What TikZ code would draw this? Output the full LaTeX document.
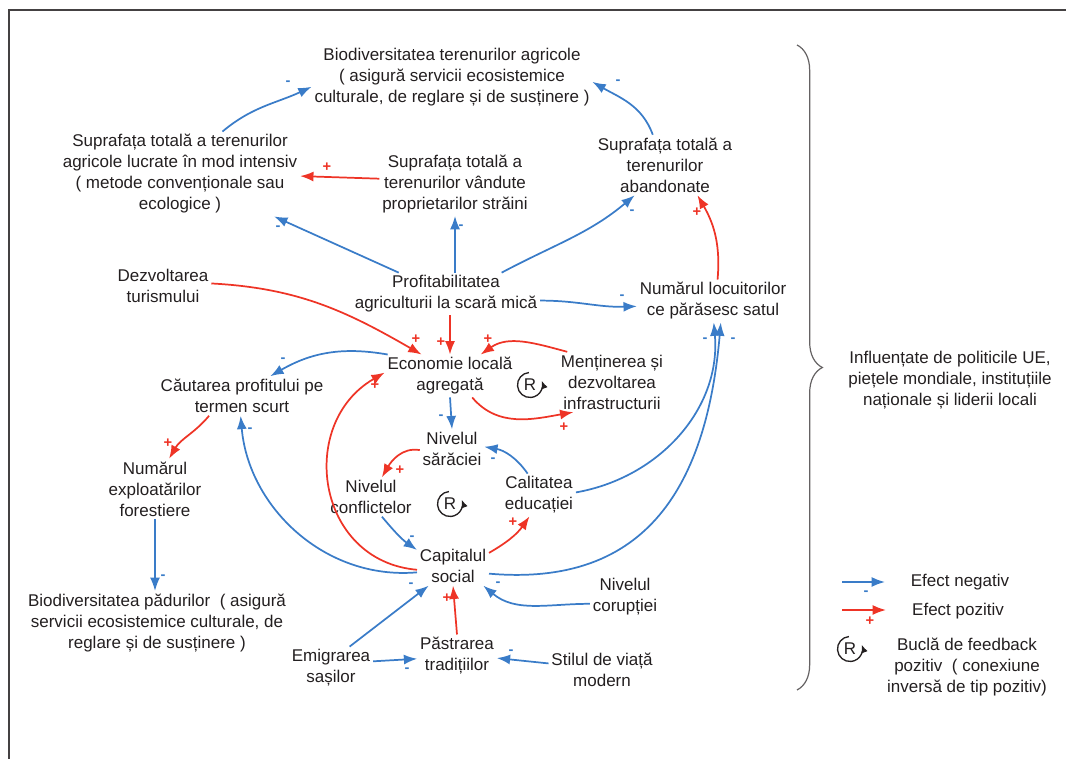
\documentclass[tikz,border=0pt]{standalone}
\usepackage{fontspec}
\setmainfont{Liberation Sans}
\usetikzlibrary{arrows.meta, decorations.pathreplacing}
\definecolor{negcol}{RGB}{58,124,200}
\definecolor{pozcol}{RGB}{238,52,38}
\definecolor{ink}{RGB}{35,31,32}
\tikzstyle{var}=[align=center, inner sep=2pt, text=ink, font=\fontsize{12.75}{15.75}\selectfont]
\tikzstyle{negarr}=[draw=negcol, line width=1.3pt, -{Latex[length=10pt,width=7.5pt]}]
\tikzstyle{pozarr}=[draw=pozcol, line width=1.3pt, -{Latex[length=10pt,width=7.5pt]}]
\tikzstyle{sgnneg}=[text=negcol, inner sep=0pt, font=\fontsize{11}{11}\selectfont\bfseries]
\tikzstyle{sgnpoz}=[text=pozcol, inner sep=0pt, font=\fontsize{11}{11}\selectfont\bfseries]
\newcommand{\buclaR}[2]{%
  \node[var, inner sep=0pt] (#1) at (#2) {R};
  \draw[ink, line width=1pt, -{Latex[length=6pt,width=5pt]}] (#1) ++(95:12.5) arc[start angle=95, end angle=380, radius=12.5];
}

\begin{document}
\begin{tikzpicture}[x=0.75pt, y=0.75pt]
  \useasboundingbox (0,0) rectangle (1066,759);
  \draw[ink!85, line width=2.2pt] (9,-5) -- (9,749) -- (1075,749);

  % variables
  \node[var] (bioA) at (452,682) {Biodiversitatea terenurilor agricole\\( asigură servicii ecosistemice\\culturale, de reglare și de susținere )};
  \node[var] (intens) at (180,585) {Suprafața totală a terenurilor\\agricole lucrate în mod intensiv\\( metode convenționale sau\\ecologice )};
  \node[var] (vand) at (455,575) {Suprafața totală a\\terenurilor vândute\\proprietarilor străini};
  \node[var] (aband) at (665,594) {Suprafața totală a\\terenurilor\\abandonate};
  \node[var] (turism) at (163,473) {Dezvoltarea\\turismului};
  \node[var] (profit) at (446,465) {Profitabilitatea\\agriculturii la scară mică};
  \node[var] (plec) at (713,458) {Numărul locuitorilor\\ce părăsesc satul};
  \node[var] (econ) at (450,383) {Economie locală\\agregată};
  \node[var] (infra) at (612,377) {Menținerea și\\dezvoltarea\\infrastructurii};
  \node[var] (cautare) at (242,363) {Căutarea profitului pe\\termen scurt};
  \node[var] (forest) at (155,270) {Numărul\\exploatărilor\\forestiere};
  \node[var] (bioP) at (157,136) {Biodiversitatea pădurilor \ ( asigură\\servicii ecosistemice culturale, de\\reglare și de susținere )};
  \node[var] (sarac) at (452,310) {Nivelul\\sărăciei};
  \node[var] (confl) at (371,262) {Nivelul\\conflictelor};
  \node[var] (educ) at (539,264) {Calitatea\\educației};
  \node[var] (capital) at (453,193) {Capitalul\\social};
  \node[var] (corup) at (625,162) {Nivelul\\corupției};
  \node[var] (traditii) at (457,103) {Păstrarea\\tradițiilor};
  \node[var] (stil) at (602,89) {Stilul de viață\\modern};
  \node[var] (emigr) at (331,91) {Emigrarea\\sașilor};
  \buclaR{R1}{530,374}
  \buclaR{R2}{450,255}

  % negative links
  \draw[negarr] (intens.45) to[out=40,in=205] (bioA.184);
  \draw[negarr] (aband.112) to[out=110,in=-30] (bioA.-2);
  \draw[negarr] (profit) -- (intens);
  \draw[negarr] (profit.north -| vand.south) -- (vand.south);
  \draw[negarr] (profit.21) to[out=28,in=220] (aband.225);
  \draw[negarr] (profit.-4) to[out=0,in=182] (plec.184);
  \draw[negarr] (econ.161) to[out=170,in=30] (cautare.35);
  \draw[negarr] (econ.south) -- (sarac.north);
  \draw[negarr] (educ.118) to[out=125,in=-10] (sarac.4);
  \draw[negarr] (educ.4) to[out=10,in=-85] (plec.-88);
  \draw[negarr] (capital.-12) to[out=-5,in=-95,looseness=1.2] (plec.-70);
  \draw[negarr] (capital.190) to[out=185,in=-85] (cautare.266);
  \draw[negarr] (confl.-61) to[out=-50,in=145] (capital.156);
  \draw[negarr] (emigr.49) -- (capital.219);
  \draw[negarr] (emigr.9) -- (traditii.184);
  \draw[negarr] (stil.173) -- (traditii.-3);
  \draw[negarr] (corup.191) to[out=180,in=-40] (capital.-33);
  \draw[negarr] (forest.south) -- (forest.south |- bioP.north);

  % positive links
  \draw[pozarr] (vand.176) -- (intens.-1);
  \draw[pozarr] (plec.78) to[out=85,in=-60] (aband.-43);
  \draw[pozarr] (turism.3) to[out=-3,in=150] (econ.143);
  \draw[pozarr] (profit.south -| econ.north) -- (econ.north);
  \draw[pozarr] (infra.146) to[out=165,in=35] (econ.35);
  \draw[pozarr] (econ.-44) to[out=-50,in=190] (infra.218);
  \draw[pozarr] (cautare.211) to[out=-130,in=60] (forest.65);
  \draw[pozarr] (capital.186) to[out=175,in=210,looseness=1.3] (econ.177);
  \draw[pozarr] (sarac.182) to[out=170,in=60] (confl.61);
  \draw[pozarr] (capital.20) to[out=30,in=235] (educ.246);
  \draw[pozarr] (traditii.north) -- (capital.south);

  % signs
  \foreach \p [count=\i] in {(288,676),(618,677),(278,531),(461,532),(632,547),(622,462),(283,399),(441,342),(493,299),(705,419),(733,419),(250,329),(412,221),(411,174),(407,89),(511,107),(498,175),(163,182),(866,166)}
    \node[sgnneg] (m\i) at \p {-};
  \foreach \p [count=\i] in {(327,592),(697,547),(416,420),(441,417),(488,420),(564,332),(168,316),(375,374),(400,289),(513,237),(447,161),(870,138)}
    \node[sgnpoz] (p\i) at \p {+};

  % brace and note
  \draw[ink!70, line width=0.9pt, decorate, decoration={brace, amplitude=19pt}] (797,714) -- (797,69);
  \node[var] (infl) at (950,379) {Influențate de politicile UE,\\piețele mondiale, instituțiile\\naționale și liderii locali};

  % legend
  \coordinate (lnA) at (842,177); \coordinate (lnB) at (885,177);
  \coordinate (lpA) at (842,149); \coordinate (lpB) at (886,149);
  \draw[negarr] (lnA) -- (lnB);
  \draw[pozarr] (lpA) -- (lpB);
  \node[var] (legN) at (960,177) {Efect negativ};
  \node[var] (legP) at (958,148) {Efect pozitiv};
  \buclaR{R3}{850,110}
  \node[var] (legR) at (967,92) {Buclă de feedback\\pozitiv \ ( conexiune\\inversă de tip pozitiv)};
\end{tikzpicture}
\end{document}
